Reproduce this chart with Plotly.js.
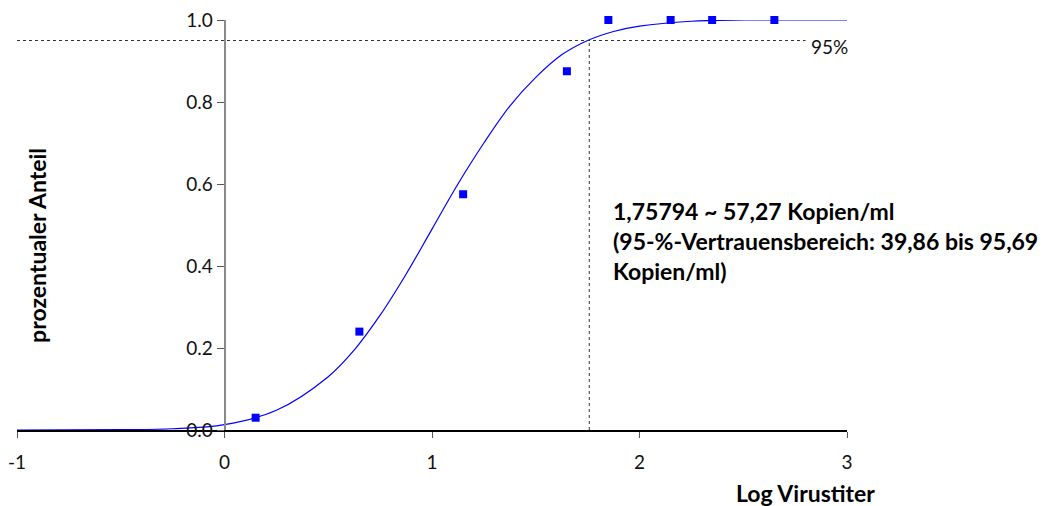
<!DOCTYPE html>
<html>
<head>
<meta charset="utf-8">
<script src="https://cdn.plot.ly/plotly-3.0.1.min.js"></script>
<style>html,body{margin:0;padding:0;background:#fff;}#chart{width:1052px;height:506px;}</style>
</head>
<body>
<div id="chart"></div>
<script>
// Observed data points (log titer, hit rate)
const obsX = [0.15, 0.65, 1.15, 1.65, 1.85, 2.15, 2.35, 2.65];
const obsY = [0.03, 0.24, 0.575, 0.875, 1.0, 1.0, 1.0, 1.0];

// Fitted curve
const fitX = [-1, -0.5, -0.25, 0, 0.25, 0.5, 0.625, 0.75, 0.875, 1.0, 1.125, 1.25, 1.375, 1.5, 1.625, 1.75, 1.875, 2.0, 2.25, 2.5, 3.0];
const fitY = [0.0, 0.001, 0.003, 0.013, 0.048, 0.13, 0.195, 0.28, 0.38, 0.49, 0.60, 0.70, 0.79, 0.86, 0.915, 0.95, 0.972, 0.985, 0.997, 1.0, 1.0];

const xTicks = [-1, 0, 1, 2, 3];
const yTicks = [0, 0.2, 0.4, 0.6, 0.8, 1.0];

const level95 = 0.95;
const cutoffX = 1.75794;
const labelText = '1,75794 ~ 57,27 Kopien/ml<br>(95-%-Vertrauensbereich: 39,86 bis 95,69<br>Kopien/ml)';

const FONT = 'Lato, "DejaVu Sans", sans-serif';

const traces = [
  {x: fitX, y: fitY, mode: 'lines', line: {color: '#0000ff', width: 1.2, shape: 'spline'}, hoverinfo: 'skip'},
  {x: obsX, y: obsY, mode: 'markers', marker: {symbol: 'square', color: '#0000ff', size: 8}, cliponaxis: false}
];

const layout = {
  width: 1052, height: 506,
  margin: {l: 17, r: 205, t: 20, b: 76},
  paper_bgcolor: '#fff', plot_bgcolor: '#fff',
  showlegend: false,
  font: {family: FONT, size: 19, color: '#000'},
  xaxis: {
    range: [-1, 3], tickvals: xTicks, ticktext: xTicks.map(String),
    showgrid: false, zeroline: false, showline: true, linecolor: '#000', linewidth: 1.5,
    ticks: 'outside', ticklen: 6, tickcolor: '#555', tickwidth: 1,
    ticklabelstandoff: 9, tickfont: {size: 19, family: FONT, color: '#111'}
  },
  yaxis: {
    range: [0, 1], tickvals: yTicks, tickformat: '.1f',
    anchor: 'free', position: 0.25,
    showgrid: false, zeroline: false, showline: true, linecolor: '#8a8a8a', linewidth: 2,
    ticks: 'outside', ticklen: 7, tickcolor: '#555', tickwidth: 1,
    tickfont: {size: 19, family: FONT, color: '#111'}
  },
  shapes: [
    {type: 'line', xref: 'x', yref: 'y', x0: -1, x1: 2.8, y0: level95, y1: level95, line: {color: '#333', width: 1, dash: 'dot'}},
    {type: 'line', xref: 'x', yref: 'y', x0: cutoffX, x1: cutoffX, y0: 0, y1: level95, line: {color: '#333', width: 1, dash: 'dot'}}
  ],
  annotations: [
    {xref: 'paper', yref: 'y', x: 1.0, y: level95, xanchor: 'right', yanchor: 'middle', xshift: 3, yshift: -6, text: '95%', showarrow: false, font: {size: 19, family: FONT, color: '#111'}},
    {xref: 'x', yref: 'y', x: 1.862, y: 0.461, xanchor: 'left', yanchor: 'middle', align: 'left', text: '<b>' + labelText + '</b>', showarrow: false, font: {size: 23, family: FONT}},
    {xref: 'paper', yref: 'paper', x: 1.0, y: 0, xanchor: 'right', yanchor: 'top', xshift: 30, yshift: -47, text: '<b>Log Virustiter</b>', showarrow: false, font: {size: 23, family: FONT}},
    {xref: 'paper', yref: 'paper', x: 0, y: 0.449, xanchor: 'center', yanchor: 'middle', xshift: 20, textangle: -90, text: '<b>prozentualer Anteil</b>', showarrow: false, font: {size: 23, family: FONT}}
  ]
};

Plotly.newPlot('chart', traces, layout, {displayModeBar: false, staticPlot: true});
</script>
</body>
</html>
